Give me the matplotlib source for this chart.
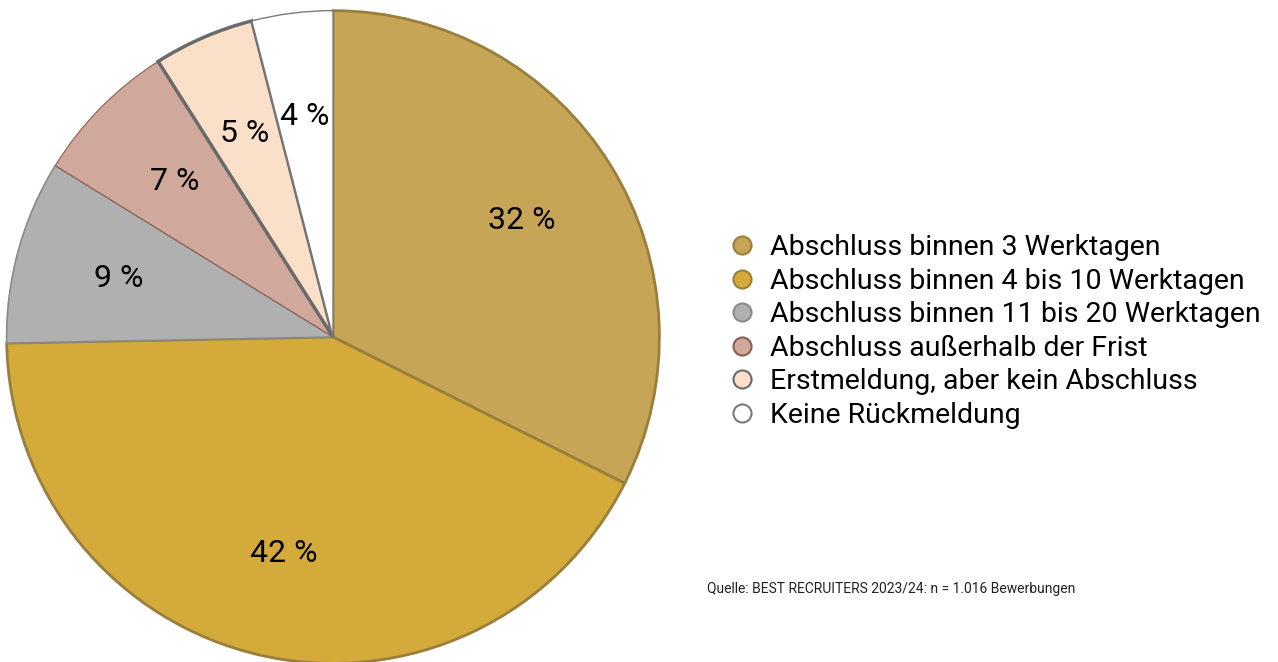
import matplotlib
matplotlib.use("Agg")
import matplotlib.pyplot as plt
from matplotlib.lines import Line2D

# Daten
kategorien = ["Abschluss binnen 3 Werktagen",
              "Abschluss binnen 4 bis 10 Werktagen",
              "Abschluss binnen 11 bis 20 Werktagen",
              "Abschluss außerhalb der Frist",
              "Erstmeldung, aber kein Abschluss",
              "Keine Rückmeldung"]
werte = [32.4, 42.3, 9.1, 7.2, 5.0, 4.0]
beschriftung = ["32 %", "42 %", "9 %", "7 %", "5 %", "4 %"]

farben = ["#C6A557", "#D4AA3B", "#B0B0B0", "#D0A99C", "#FAE0C9", "#FFFFFF"]
kanten = ["#9A7E3C", "#9A7E3C", "#8A8A8A", "#8B5E50", "#6A6A6A", "#7A7A7A"]
kantenbreite = [2, 2, 1.2, 0.8, 2.5, 1.0]

plt.rcParams['font.family'] = ['Roboto', 'DejaVu Sans']

fig = plt.figure(figsize=(12.78, 6.62), dpi=100)
r = 328
cx, cy = 333, 662 - 337
ax = fig.add_axes([(cx - r) / 1278, (cy - r) / 662, 2 * r / 1278, 2 * r / 662])

wedges, texte = ax.pie(werte, colors=farben, startangle=90, counterclock=False,
                       labels=beschriftung, labeldistance=0.68,
                       textprops=dict(fontsize=23, ha='center', va='center'))
for w, ec, lw in zip(wedges, kanten, kantenbreite):
    w.set_edgecolor(ec)
    w.set_linewidth(lw)
ax.set_xlim(-1.005, 1.005)
ax.set_ylim(-1.005, 1.005)
ax.set_aspect('equal')
ax.axis('off')

griffe = [Line2D([], [], marker='o', linestyle='', markersize=13,
                 markerfacecolor=f, markeredgecolor=e, markeredgewidth=1.5)
          for f, e in zip(farben, kanten)]
fig.legend(griffe, kategorien, loc='upper left', bbox_to_anchor=(714 / 1278, 1 - 220 / 662),
           frameon=False, fontsize=20.5, handletextpad=0.47, labelspacing=0.23,
           handlelength=1.0, borderpad=0)

fig.text(707 / 1278, 1 - 589 / 662, "Quelle: BEST RECRUITERS 2023/24: n = 1.016 Bewerbungen",
         fontsize=10, va='center', ha='left', color='#222222')

fig.savefig("out.png", dpi=100)
